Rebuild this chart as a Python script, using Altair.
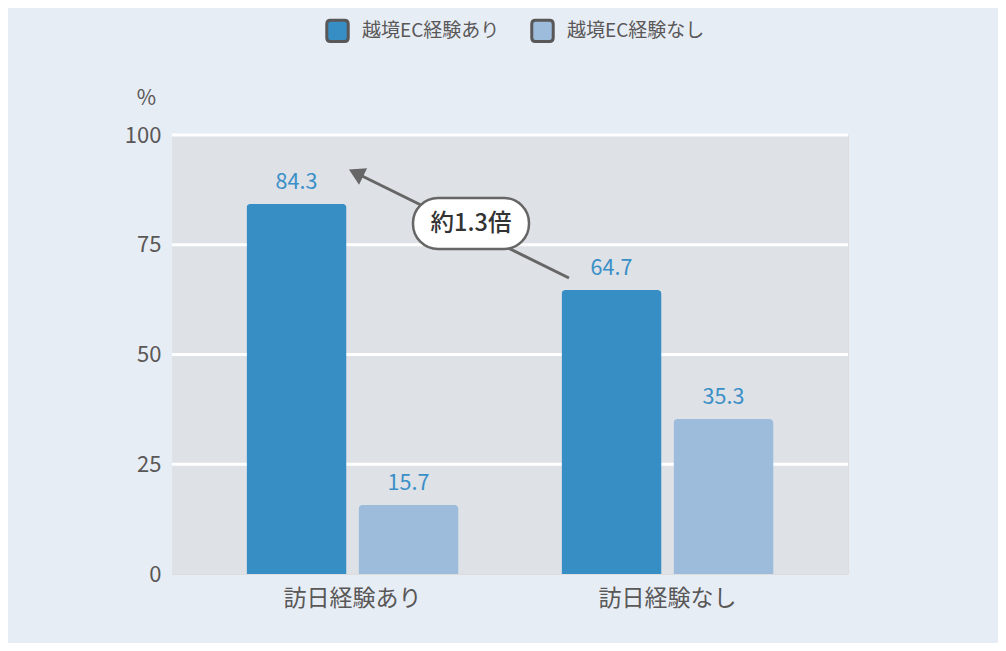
import altair as alt
import pandas as pd

groups = ["訪日経験あり", "訪日経験なし"]
series = ["越境EC経験あり", "越境EC経験なし"]
ec_yes = [84.3, 64.7]
ec_no = [15.7, 35.3]
colors = ["#378EC4", "#9DBCDC"]
y_ticks = [0, 25, 50, 75, 100]
annotation_text = ["約1.3倍"]

rows = []
for i, g in enumerate(groups):
    rows.append({"group": g, "series": series[0], "value": ec_yes[i]})
    rows.append({"group": g, "series": series[1], "value": ec_no[i]})
df = pd.DataFrame(rows)

FONT = "Noto Sans CJK JP"
GRAY = "#595757"

x_enc = alt.X(
    "group:N", sort=groups, title=None,
    scale=alt.Scale(paddingInner=0.327, paddingOuter=0.2365),
    axis=alt.Axis(labelAngle=0, labelFontSize=23, labelColor=GRAY, labelFont=FONT,
                  ticks=False, tickSize=0, domain=False, labelPadding=13, grid=False),
)
xoff_enc = alt.XOffset("series:N", sort=series,
                       scale=alt.Scale(paddingInner=0.107, paddingOuter=0))
y_scale = alt.Scale(domain=[0, 100], nice=False)
y_enc = alt.Y(
    "value:Q", scale=y_scale,
    axis=alt.Axis(values=y_ticks, title="%", titleAngle=0,
                  titleX=-26, titleY=-37, titleAlign="center", titleBaseline="middle",
                  titleFontSize=21, titleFontWeight="normal", titleColor=GRAY, titleFont=FONT,
                  labelFontSize=22, labelColor=GRAY, labelFont=FONT, labelPadding=11,
                  ticks=False, tickSize=0, domain=False, grid=False),
)
color_enc = alt.Color(
    "series:N", sort=series,
    scale=alt.Scale(domain=series, range=colors),
    legend=alt.Legend(
        title=None, orient="none", legendX=153, legendY=-117, direction="horizontal",
        symbolType="M-0.65,-1 L0.65,-1 Q1,-1 1,-0.65 L1,0.65 Q1,1 0.65,1 L-0.65,1 Q-1,1 -1,0.65 L-1,-0.65 Q-1,-1 -0.65,-1 Z",
        symbolSize=460, symbolStrokeColor=GRAY, symbolStrokeWidth=3, symbolOpacity=1,
        labelFontSize=19, labelColor=GRAY, labelFont=FONT, labelOffset=12,
        columnPadding=25,
    ),
)

# plot background and white gridlines
bg = alt.Chart(pd.DataFrame({"lo": [y_ticks[0]], "hi": [y_ticks[-1]]})).mark_rect(
    fill="#DEE1E6", strokeWidth=0
).encode(x=alt.value(0), x2=alt.value("width"), y=alt.Y("lo:Q", scale=y_scale), y2="hi:Q")
grid = alt.Chart(pd.DataFrame({"v": y_ticks[1:]})).mark_rule(
    color="#FFFFFF", strokeWidth=3
).encode(x=alt.value(0), x2=alt.value("width"), y=alt.Y("v:Q", scale=y_scale))

base = alt.Chart(df)
bars = base.mark_bar(cornerRadiusTopLeft=4, cornerRadiusTopRight=4).encode(
    x=x_enc, xOffset=xoff_enc, y=y_enc, color=color_enc
)
labels = base.mark_text(baseline="bottom", dy=-10, fontSize=21.5, font=FONT, color="#3A8FC6").encode(
    x=alt.X("group:N", sort=groups), xOffset=alt.XOffset("series:N", sort=series),
    y="value:Q", text=alt.Text("value:Q", format=".1f")
)

ann = alt.Chart(pd.DataFrame({"label": annotation_text}))
arrow_line = ann.mark_rule(color="#666666", strokeWidth=3).encode(
    x=alt.value(397), y=alt.value(143), x2=alt.value(186), y2=alt.value(39)
)
arrow_head = ann.mark_point(shape="triangle-up", filled=True, size=330, angle=296.3,
                            color="#666666", opacity=1).encode(
    x=alt.value(184), y=alt.value(38)
)
bubble = ann.mark_rect(fill="white", stroke="#666666", strokeWidth=2.5, cornerRadius=25).encode(
    x=alt.value(241), x2=alt.value(357), y=alt.value(63), y2=alt.value(114)
)
bubble_text = ann.mark_text(fontSize=23.5, font=FONT, fontWeight=500, color="#333333",
                            align="center", baseline="middle").encode(
    x=alt.value(299), y=alt.value(89), text="label:N"
)

chart = alt.layer(bg, grid, bars, labels, arrow_line, arrow_head, bubble, bubble_text).properties(
    width=676, height=439,
    autosize=alt.AutoSizeParams(type="none"),
    padding={"left": 164, "top": 127, "right": 150, "bottom": 69},
    background="#E7EDF5",
).configure_view(stroke="transparent", strokeWidth=0).configure(font=FONT)

chart.save("out.html", embed_options={"renderer": "svg", "actions": False})
